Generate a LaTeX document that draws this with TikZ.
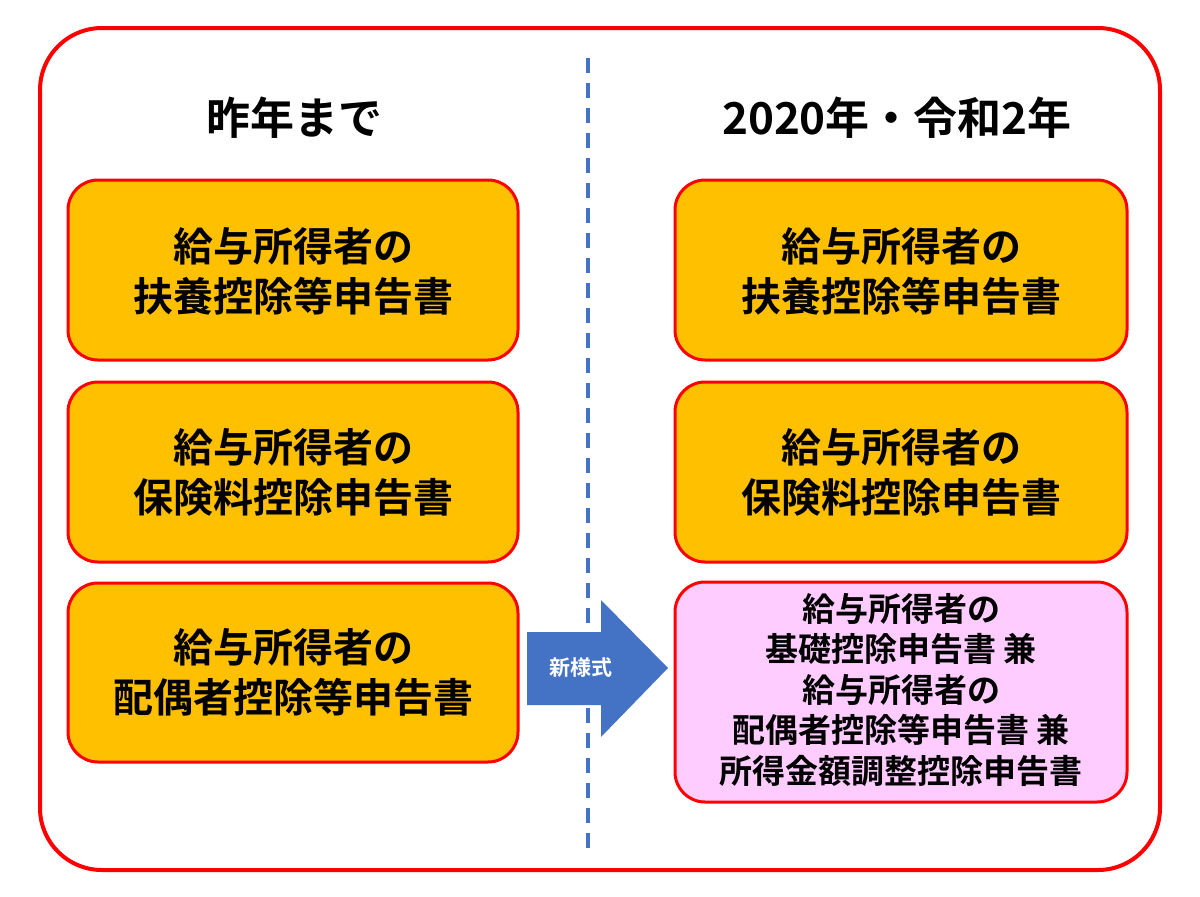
\documentclass[tikz,border=0pt]{standalone}
\usepackage{fontspec}
\setmainfont{Noto Sans CJK JP}[BoldFont={Noto Sans CJK JP Bold}]
\usetikzlibrary{shapes.arrows}
\definecolor{redline}{RGB}{255,0,0}
\definecolor{orangefill}{RGB}{255,192,0}
\definecolor{pinkfill}{RGB}{255,204,255}
\definecolor{bluearrow}{RGB}{68,114,196}
\begin{document}
\begin{tikzpicture}[x=1pt,y=-1pt,
  docbox/.style={draw=redline,line width=3pt,rounded corners=30pt,fill=orangefill},
  pinkbox/.style={draw=redline,line width=3pt,rounded corners=30pt,fill=pinkfill},
  boxtext/.style={align=center,font=\fontsize{40}{50}\selectfont\bfseries},
  pinktext/.style={align=center,font=\fontsize{33}{40.5}\selectfont\bfseries},
  titletext/.style={font=\fontsize{44}{50}\selectfont\bfseries}]
\useasboundingbox (0,0) rectangle (1200,897);
\fill[white] (0,0) rectangle (1200,897);
% outer frame
\draw[redline,line width=4pt,rounded corners=62pt] (40,28) rectangle (1160,870);
% divider
\draw[bluearrow,line width=3.5pt,dash pattern=on 15pt off 10pt] (588,58) -- (588,848);
% titles
\node[titletext] (tl) at (294,118) {昨年まで};
\node[titletext] (tr) at (897,118) {2020年・令和2年};
% left boxes
\draw[docbox] (68,180) rectangle (518,360);
\node[boxtext] (l1) at (293,271) {給与所得者の\\扶養控除等申告書};
\draw[docbox] (68,382) rectangle (518,562);
\node[boxtext] (l2) at (293,472) {給与所得者の\\保険料控除申告書};
\draw[docbox] (68,583) rectangle (518,762);
\node[boxtext] (l3) at (293,672) {給与所得者の\\配偶者控除等申告書};
% right boxes
\draw[docbox] (675,180) rectangle (1127,360);
\node[boxtext] (r1) at (901,271) {給与所得者の\\扶養控除等申告書};
\draw[docbox] (675,382) rectangle (1127,562);
\node[boxtext] (r2) at (901,472) {給与所得者の\\保険料控除申告書};
\draw[pinkbox] (675,582) rectangle (1127,802);
\node[pinktext] (r3) at (901,690) {給与所得者の\\基礎控除申告書 兼\\給与所得者の\\配偶者控除等申告書 兼\\所得金額調整控除申告書};
% arrow
\fill[bluearrow] (527,632) -- (601,632) -- (601,600) -- (668,668) -- (601,737) -- (601,705) -- (527,705) -- cycle;
\node[text=white,font=\fontsize{21}{24}\selectfont\bfseries] (arr) at (581,668) {新様式};
\end{tikzpicture}
\end{document}
